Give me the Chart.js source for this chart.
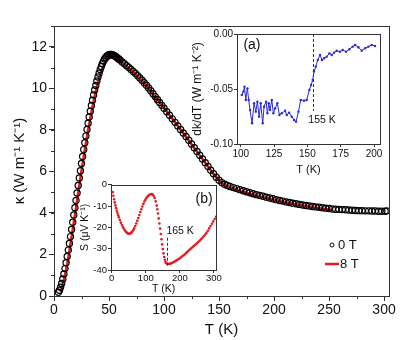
<!DOCTYPE html>
<html>
<head>
<meta charset="utf-8">
<script src="https://cdn.jsdelivr.net/npm/chart.js@4.4.1/dist/chart.umd.min.js"></script>
<style>
  body { margin: 0; background: #fff; overflow: hidden; }
  #wrap { position: relative; width: 415px; height: 340px; }
  #wrap canvas { position: absolute; }
</style>
</head>
<body>
<div id="wrap">
  <canvas id="main" width="415" height="340" style="left:0;top:0"></canvas>
  <canvas id="insA" width="201" height="159" style="left:187px;top:18px"></canvas>
  <canvas id="insB" width="143" height="117" style="left:79px;top:178px"></canvas>
</div>
<script>
// main panel: thermal conductivity, 0 T (circles) and 8 T (red line)
const t0 = [4,5,6,7,8,9,10,11,12,13,14,15,16,17,18,19,20,21,22,23,24,25,26,27,28,29,30,31,32,33,34,35,36,37,38,39,40,41,42,43,44,45,46,47,48,49,50,51,52,53,54,55,56,57,58,59,60,
  62,64,66,68,70,72,74,76,78,80,82,84,86,88,90,92,94,96,98,100,
  102.5,105,107.5,110,112.5,115,117.5,120,122.5,125,127.5,130,132.5,135,137.5,140,142.5,145,147.5,150,152.5,155,157.5,160,
  163,166,169,172,175,178,181,184,187,190,193,196,199,202,205,208,211,214,217,220,223,226,229,232,235,238,241,244,247,250,
  253,256,259,262,265,268,271,274,277,280,283,286,289,292,295,298,301,302.5];
const k0 = [0.18,0.28,0.42,0.6,0.82,1.06,1.32,1.6,1.9,2.21,2.53,2.86,3.2,3.55,3.9,4.25,4.6,4.96,5.32,5.68,6.03,6.38,6.72,7.05,7.38,7.7,8.02,8.32,8.62,8.9,9.17,9.43,9.68,9.92,10.14,10.35,10.55,10.73,10.9,11.05,11.19,11.31,11.41,11.49,11.55,11.6,11.62,11.63,11.63,11.62,11.6,11.57,11.53,11.49,11.45,11.4,11.36,
  11.27,11.18,11.09,11.0,10.91,10.81,10.71,10.61,10.5,10.39,10.27,10.15,10.02,9.88,9.74,9.6,9.46,9.32,9.18,9.04,
  8.87,8.7,8.53,8.36,8.19,8.02,7.85,7.68,7.5,7.32,7.14,6.96,6.78,6.6,6.42,6.24,6.06,5.89,5.72,5.57,5.46,5.38,5.32,5.27,
  5.22,5.17,5.12,5.07,5.02,4.97,4.92,4.88,4.84,4.8,4.76,4.72,4.68,4.64,4.6,4.57,4.53,4.5,4.47,4.44,4.41,4.38,4.36,4.33,4.31,4.29,4.27,4.25,4.23,4.21,
  4.19,4.18,4.17,4.16,4.15,4.14,4.13,4.12,4.11,4.11,4.1,4.1,4.09,4.09,4.08,4.08,4.08,4.1];

const t8 = [6,8,10,12,14,16,18,20,22,24,26,28,30,32,34,36,38,40,42,44,46,48,50,52,54,56,58,60,
  65,70,75,80,85,90,92,93,95,100,105,110,115,120,125,130,135,140,145,150,155,160,165,170,175,180,190,200,210,220,230,240,250,253];
const k8 = [0.2,0.55,1.0,1.55,2.18,2.85,3.55,4.25,4.97,5.68,6.38,7.05,7.7,8.3,8.86,9.38,9.86,10.28,10.65,10.95,11.18,11.34,11.44,11.49,11.5,11.46,11.39,11.31,
  11.1,10.88,10.64,10.37,10.07,9.73,9.42,9.56,9.42,9.06,8.71,8.37,8.02,7.67,7.31,6.95,6.59,6.23,5.88,5.56,5.36,5.24,5.14,5.05,4.97,4.9,4.76,4.63,4.51,4.41,4.32,4.24,4.17,4.15];

// inset (a): dk/dT
const tA = [100.8,102,102.8,103.8,105,106,107,108.5,110,111.3,112.5,113.8,115,116.5,117.5,119,120,121,122,123.3,124.5,125.8,127.5,129,130.8,133.3,134.5,136.3,138.3,140,141.5,143.3,145,147.5,149.5,151.5,152.8,154,155,156.3,157.8,159.5,161,162.5,164.5,166.5,168.3,170,172,174.5,176.5,179,181.5,184,185.8,188.3,190.8,193.3,195.8,198.3,200.8];
const dA = [-0.0555,-0.0524,-0.0479,-0.0600,-0.0494,-0.0600,-0.0691,-0.0812,-0.0630,-0.0706,-0.0615,-0.0752,-0.0630,-0.0812,-0.0661,-0.0615,-0.0721,-0.0630,-0.0691,-0.0600,-0.0721,-0.0676,-0.0630,-0.0736,-0.0721,-0.0697,-0.0736,-0.0715,-0.0752,-0.0782,-0.0797,-0.0706,-0.0600,-0.0606,-0.0600,-0.0509,-0.0464,-0.0418,-0.0342,-0.0297,-0.0236,-0.0191,-0.0236,-0.0221,-0.0206,-0.0176,-0.0191,-0.0170,-0.0152,-0.0161,-0.0145,-0.0161,-0.0139,-0.0115,-0.0100,-0.0121,-0.0152,-0.0130,-0.0115,-0.0100,-0.0109];

// inset (b): Seebeck coefficient
const tB = [3,5,7,9,11,13,15,17,19,21,24,27,30,33,36,39,42,45,48,51,54,57,60,63,66,69,72,75,78,81,84,87,90,93,96,99,102,105,108,111,114,117,120,123,126,129,132,134,136,138,140,142,144,146,148,150,152,154,156,158,160,163,166,170,174,178,182,186,190,194,198,202,206,210,214,218,222,226,230,234,238,242,246,250,254,258,262,266,270,274,278,282,286,290,294,298,302,306];
const sB = [-3.5,-5.2,-6.8,-8.3,-9.7,-11.0,-12.2,-13.3,-14.3,-15.3,-16.6,-17.8,-18.9,-19.9,-20.8,-21.5,-22.1,-22.6,-22.9,-23.0,-22.9,-22.6,-22.1,-21.4,-20.5,-19.4,-18.2,-16.9,-15.6,-14.2,-12.8,-11.5,-10.2,-9.0,-7.9,-7.0,-6.2,-5.6,-5.1,-4.7,-4.5,-4.4,-4.6,-5.2,-6.2,-7.8,-9.8,-11.5,-13.5,-15.8,-18.2,-20.6,-23.1,-25.6,-28.0,-30.2,-32.2,-33.9,-35.2,-36.2,-36.8,-37.1,-37.2,-37.1,-36.9,-36.6,-36.3,-35.9,-35.5,-35.1,-34.7,-34.2,-33.7,-33.2,-32.7,-32.1,-31.5,-30.9,-30.3,-29.7,-29.1,-28.6,-28.1,-27.5,-26.9,-26.3,-25.6,-24.9,-24.2,-23.4,-22.6,-21.6,-20.5,-19.4,-18.3,-17.2,-16.1,-15.0];

// tick labels
const mainXTicks = [0, 50, 100, 150, 200, 250, 300];
const mainYTicks = [0, 2, 4, 6, 8, 10, 12];
const aXTicks = [100, 125, 150, 175, 200];
const aYTicks = [-0.10, -0.05, 0.00];
const bXTicks = [0, 100, 200, 300];
const bYTicks = [-40, -30, -20, -10, 0];

const AX = '#333';
const RED = '#e41a1c';
Chart.defaults.font.family = "'Liberation Sans', Arial, sans-serif";
Chart.defaults.color = '#111';

function xy(xs, ys) { return xs.map((x, i) => ({ x: x, y: ys[i] })); }

// frame box around the plot area
function box(chart) {
  const { ctx, chartArea: a } = chart;
  ctx.save();
  ctx.strokeStyle = AX;
  ctx.lineWidth = 1;
  ctx.strokeRect(Math.round(a.left) + 0.5, Math.round(a.top) + 0.5, Math.round(a.width), Math.round(a.height));
  ctx.restore();
}

// short ticks between the labelled ones
function minor(chart, id, step, len) {
  const s = chart.scales[id];
  const ctx = chart.ctx;
  ctx.save();
  ctx.strokeStyle = AX;
  ctx.lineWidth = 1;
  ctx.beginPath();
  for (let v = Math.ceil(s.min / step) * step; v <= s.max + 1e-9; v += step) {
    const p = Math.round(s.getPixelForValue(v)) + 0.5;
    if (s.isHorizontal()) { ctx.moveTo(p, s.top); ctx.lineTo(p, s.top + len); }
    else { ctx.moveTo(s.right, p); ctx.lineTo(s.right - len, p); }
  }
  ctx.stroke();
  ctx.restore();
}

function vdash(chart, xv, y1, y2) {
  const ctx = chart.ctx, sx = chart.scales.x, sy = chart.scales.y;
  const px = Math.round(sx.getPixelForValue(xv)) + 0.5;
  ctx.save();
  ctx.strokeStyle = '#333';
  ctx.lineWidth = 1;
  ctx.setLineDash([3, 2]);
  ctx.beginPath();
  ctx.moveTo(px, sy.getPixelForValue(y1));
  ctx.lineTo(px, sy.getPixelForValue(y2));
  ctx.stroke();
  ctx.restore();
}

function label(chart, text, xv, yv, size, align) {
  const ctx = chart.ctx;
  ctx.save();
  ctx.fillStyle = '#111';
  ctx.font = size + "px 'Liberation Sans', Arial, sans-serif";
  ctx.textAlign = align || 'left';
  ctx.textBaseline = 'middle';
  ctx.fillText(text, chart.scales.x.getPixelForValue(xv), chart.scales.y.getPixelForValue(yv));
  ctx.restore();
}

function axes(o) {
  return {
    x: {
      type: 'linear', min: o.xmin, max: o.xmax,
      border: { color: AX, width: 1 },
      grid: { drawOnChartArea: false, tickLength: o.tl, color: AX },
      ticks: { padding: o.xpad, maxRotation: 0, autoSkip: false, font: { size: o.tick }, callback: o.xfmt },
      afterBuildTicks(s) { s.ticks = o.xticks.map(v => ({ value: v })); },
      title: { display: true, text: 'T (K)', font: { size: o.xtitle }, padding: { top: 0, bottom: o.xtb } },
      afterFit(s) { s.height = o.h; }
    },
    y: {
      type: 'linear', min: o.ymin, max: o.ymax,
      border: { color: AX, width: 1 },
      grid: { drawOnChartArea: false, tickLength: o.tl, color: AX },
      ticks: { padding: o.ypad, autoSkip: false, font: { size: o.tick }, callback: o.yfmt },
      afterBuildTicks(s) { s.ticks = o.yticks.map(v => ({ value: v })); },
      title: { display: true, text: o.ytext, font: { size: o.ytitle }, padding: { top: o.ytp, bottom: 0 } },
      afterFit(s) { s.width = o.w; }
    }
  };
}

const base = { responsive: false, animation: false, events: [] };

new Chart(document.getElementById('main'), {
  type: 'scatter',
  data: {
    datasets: [
      { label: '0 T', data: xy(t0, k0), showLine: false, pointRadius: 3.1, pointBorderWidth: 1.2,
        borderColor: '#000', backgroundColor: 'rgba(255,255,255,0)' },
      { label: '8 T', data: xy(t8, k8), showLine: true, pointRadius: 0, borderWidth: 2.5,
        borderColor: RED, backgroundColor: RED }
    ]
  },
  options: Object.assign({}, base, {
    layout: { padding: { top: 26, right: 26 } },
    plugins: { legend: { display: false }, tooltip: { enabled: false } },
    scales: axes({ xmin: 0, xmax: 304.5, xticks: mainXTicks, ymin: 0, ymax: 13, yticks: mainYTicks, tl: 5, tick: 14,
      xpad: 1, ypad: 2, xtitle: 15, xtb: 1, ytitle: 15, ytp: 11, ytext: 'κ (W m⁻¹ K⁻¹)', h: 44, w: 54 })
  }),
  plugins: [{
    id: 'mainDeco',
    afterDraw(chart) {
      box(chart);
      minor(chart, 'x', 25, 3);
      minor(chart, 'y', 1, 3);
      // legend
      const { ctx, chartArea: a } = chart;
      ctx.save();
      ctx.strokeStyle = '#111';
      ctx.lineWidth = 1;
      ctx.beginPath();
      ctx.arc(a.right - 57, a.bottom - 51, 2, 0, Math.PI * 2);
      ctx.stroke();
      ctx.strokeStyle = RED;
      ctx.lineWidth = 2.5;
      ctx.beginPath();
      ctx.moveTo(a.right - 64, a.bottom - 32);
      ctx.lineTo(a.right - 50, a.bottom - 32);
      ctx.stroke();
      ctx.fillStyle = '#111';
      ctx.font = "13px 'Liberation Sans', Arial, sans-serif";
      ctx.textBaseline = 'middle';
      ctx.fillText('0 T', a.right - 51, a.bottom - 51);
      ctx.fillText('8 T', a.right - 49, a.bottom - 32);
      ctx.restore();
    }
  }]
});

new Chart(document.getElementById('insA'), {
  type: 'scatter',
  data: {
    datasets: [
      { label: 'dk/dT', data: xy(tA, dA), showLine: true, borderWidth: 1, borderColor: '#2b2bd6',
        pointRadius: 1.2, pointBorderWidth: 0, backgroundColor: '#2b2bd6' }
    ]
  },
  options: Object.assign({}, base, {
    layout: { padding: { top: 16, right: 8 } },
    plugins: { legend: { display: false }, tooltip: { enabled: false } },
    scales: axes({ xmin: 97.2, xmax: 204.5, xticks: aXTicks, ymin: -0.1, ymax: 0, yticks: aYTicks, tl: 3, tick: 10,
      xpad: 1, ypad: 1, xtitle: 11, xtb: 0, ytitle: 12, ytp: 3, ytext: 'dk/dT (W m⁻¹ K⁻²)', h: 33, w: 50,
      yfmt: v => v.toFixed(2) })
  }),
  plugins: [{
    id: 'insADeco',
    afterDraw(chart) {
      box(chart);
      vdash(chart, 154, 0, -0.07);
      label(chart, '(a)', 102, -0.0105, 14);
      label(chart, '155 K', 150.7, -0.078, 10.5);
    }
  }]
});

new Chart(document.getElementById('insB'), {
  type: 'scatter',
  data: {
    datasets: [
      { label: 'S', data: xy(tB, sB), showLine: false, pointRadius: 1.3, pointBorderWidth: 0,
        borderColor: RED, backgroundColor: RED }
    ]
  },
  options: Object.assign({}, base, {
    layout: { padding: { top: 6, right: 5 } },
    plugins: { legend: { display: false }, tooltip: { enabled: false } },
    scales: axes({ xmin: -2, xmax: 307, xticks: bXTicks, ymin: -40, ymax: 0, yticks: bYTicks, tl: 3, tick: 9.5,
      xpad: 0, ypad: 1, xtitle: 10.5, xtb: 0, ytitle: 10.5, ytp: 0, ytext: 'S (μV K⁻¹)', h: 25, w: 32 })
  }),
  plugins: [{
    id: 'insBDeco',
    afterDraw(chart) {
      box(chart);
      vdash(chart, 162, -38, -24);
      label(chart, '(b)', 296, -7, 14, 'right');
      label(chart, '165 K', 160.5, -21.8, 10.5);
    }
  }]
});
</script>
</body>
</html>
